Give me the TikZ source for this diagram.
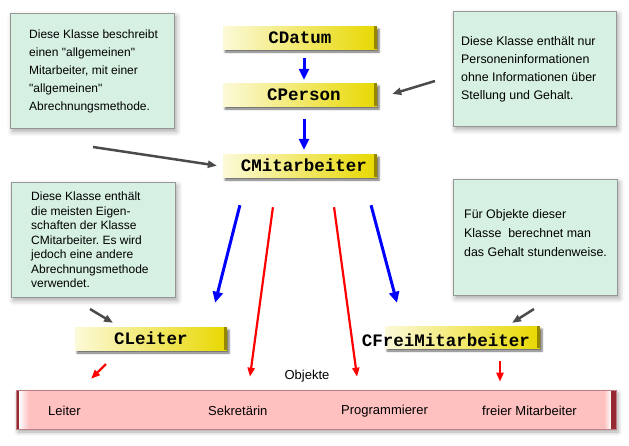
\documentclass[tikz,border=0pt]{standalone}
\usepackage{fontspec}
\setmainfont{Liberation Sans}[Ligatures=TeXOff]
\setmonofont{Liberation Mono}
\usetikzlibrary{arrows.meta,shadows,shadows.blur,calc}
\frenchspacing

\definecolor{notefill}{RGB}{214,240,226}
\definecolor{noteline}{RGB}{150,150,150}
\definecolor{yel}{RGB}{232,216,0}
\definecolor{yeldark}{RGB}{150,135,0}
\definecolor{barfill}{RGB}{255,192,192}
\definecolor{bardark}{RGB}{150,40,50}
\definecolor{arrgray}{RGB}{75,75,75}

\begin{document}
\begin{tikzpicture}[x=1pt,y=-1pt,
  note/.style={draw=noteline, fill=notefill, line width=0.8pt, anchor=north west, inner sep=0pt,
    blur shadow={shadow xshift=2pt, shadow yshift=-3pt, shadow blur radius=5pt, shadow opacity=35}},
  notetxt/.style={anchor=west, align=left, inner sep=0pt},
  ybox/.style={minimum width=154pt, minimum height=23pt, inner sep=0pt,
    left color=white!85!yel, right color=yel,
    font=\fontsize{17.5}{20}\selectfont\ttfamily\bfseries,
    blur shadow={shadow xshift=2pt, shadow yshift=-3pt, shadow blur radius=2pt, shadow opacity=60},
    path picture={\fill[yeldark] ([xshift=-3pt]path picture bounding box.north east) rectangle (path picture bounding box.south east);}},
  ytext/.style={inner sep=0pt, font=\fontsize{17.5}{20}\selectfont\ttfamily\bfseries},
  bararr/.style={line width=3pt, draw=blue, -{Triangle[length=11pt,width=10pt]}},
  redarr/.style={line width=2.2pt, draw=red, -{Triangle[length=9pt,width=7pt]}},
  grayarr/.style={line width=2.5pt, draw=arrgray, -{Triangle[length=9pt,width=7pt]}},
  bartxt/.style={anchor=west, inner sep=0pt, font=\fontsize{13}{15}\selectfont},
]
\useasboundingbox (0,0) rectangle (629,445);

% notes
\node[note, minimum width=164pt, minimum height=115pt] (note1) at (10,13) {};
\node[notetxt, font=\fontsize{12}{18}\selectfont] (note1txt) at ([xshift=19pt]note1.west)
  {Diese Klasse beschreibt\\einen "allgemeinen"\\Mitarbeiter, mit einer\\"allgemeinen"\\Abrechnungsmethode.};
\node[note, minimum width=163pt, minimum height=115pt] (note2) at (453,11) {};
\node[notetxt, font=\fontsize{12.4}{18}\selectfont] (note2txt) at ([xshift=8pt]note2.west)
  {Diese Klasse enthält nur\\Personeninformationen\\ohne Informationen über\\Stellung und Gehalt.};
\node[note, minimum width=164pt, minimum height=115pt] (note3) at (11,182) {};
\node[notetxt, font=\fontsize{12}{14.5}\selectfont] (note3txt) at ([xshift=20pt]note3.west)
  {Diese Klasse enthält\\die meisten Eigen-\\schaften der Klasse\\CMitarbeiter. Es wird\\jedoch eine andere\\Abrechnungsmethode\\verwendet.};
\node[note, minimum width=164pt, minimum height=116pt] (note4) at (453,179) {};
\node[notetxt, font=\fontsize{12.4}{19}\selectfont] (note4txt) at ([xshift=11pt,yshift=4pt]note4.west)
  {Für Objekte dieser\\Klasse\ \ berechnet man\\das Gehalt stundenweise.};

% class boxes
\node[ybox] (datum) at (300,37.5) {CDatum};
\node[ybox] (person) at (300,94.5) {\hspace*{8pt}CPerson};
\node[ybox] (mitarb) at (300,165.5) {\hspace*{8pt}CMitarbeiter};
\node[ybox, minimum width=152pt] (leiter) at (151,338.5) {CLeiter};
\node[ybox, minimum width=155pt, minimum height=22pt] (freibox) at (462.5,337) {};
\node[ytext] (frei) at (446,340) {CFreiMitarbeiter};

% objects bar
\node[minimum width=600pt, minimum height=39pt, inner sep=0pt, fill=barfill, draw=bardark!60, line width=0.6pt,
  blur shadow={shadow xshift=2pt, shadow yshift=-3pt, shadow blur radius=4pt, shadow opacity=35},
  path picture={
    \fill[bardark] (path picture bounding box.north west) rectangle ([xshift=3pt]path picture bounding box.south west);
    \shade[left color=white, right color=barfill] ([xshift=3pt]path picture bounding box.north west) rectangle ([xshift=13pt]path picture bounding box.south west);
    \shade[left color=barfill, right color=white] ([xshift=-12pt]path picture bounding box.north east) rectangle ([xshift=-5pt]path picture bounding box.south east);
    \fill[bardark] ([xshift=-5pt]path picture bounding box.north east) rectangle (path picture bounding box.south east);
  }] (bar) at (316,409.5) {};
\node[font=\fontsize{13}{15}\selectfont, inner sep=0pt] (objekte) at (307,376) {Objekte};
\node[bartxt] (t1) at (48,411) {Leiter};
\node[bartxt] (t2) at (208,411) {Sekretärin};
\node[bartxt] (t3) at (341,411) {Programmierer};
\node[bartxt] (t4) at (482,411) {freier Mitarbeiter};

% blue inheritance arrows
\draw[bararr, shorten <=9pt, shorten >=3pt] ([xshift=4pt]datum.south) -- ([xshift=4pt]person.north);
\draw[bararr, shorten <=13pt, shorten >=4pt] ([xshift=4pt]person.south) -- ([xshift=4pt]mitarb.north);
\draw[bararr, shorten <=28.9pt, shorten >=24.8pt] ([xshift=-53pt]mitarb.south) -- ([xshift=58pt]leiter.north);
\draw[bararr, shorten <=29pt, shorten >=23.8pt] ([xshift=63.6pt]mitarb.south) -- ([xshift=-59.4pt]freibox.north);

% red instance arrows
\draw[redarr, shorten <=30.3pt, shorten >=13.1pt] ([xshift=-23pt]mitarb.south) -- ([xshift=-67.8pt]bar.north);
\draw[redarr, shorten <=30.3pt, shorten >=13.1pt] ([xshift=30pt]mitarb.south) -- ([xshift=42.8pt]bar.north);
\draw[redarr, shorten <=19.8pt, shorten >=15.6pt] ([xshift=-31pt]leiter.south) -- ([xshift=-236pt]bar.north);
\draw[redarr, shorten <=13pt, shorten >=8pt] ([xshift=37.5pt]freibox.south) -- ([xshift=184pt]bar.north);

% gray comment arrows
\coordinate (g1s) at (93,147);
\coordinate (g2s) at (435,81);
\coordinate (g3s) at (90,309);
\coordinate (g4s) at (534,309);
\draw[grayarr, shorten >=6pt] (g1s) -- ([yshift=-1pt]mitarb.west);
\draw[grayarr, shorten >=15.7pt] (g2s) -- ([yshift=-4pt]person.east);
\draw[grayarr, shorten >=7.7pt] (g3s) -- ([xshift=-31.4pt]leiter.north);
\draw[grayarr, shorten >=5.6pt] (g4s) -- ([xshift=44.8pt]freibox.north);
\end{tikzpicture}
\end{document}
